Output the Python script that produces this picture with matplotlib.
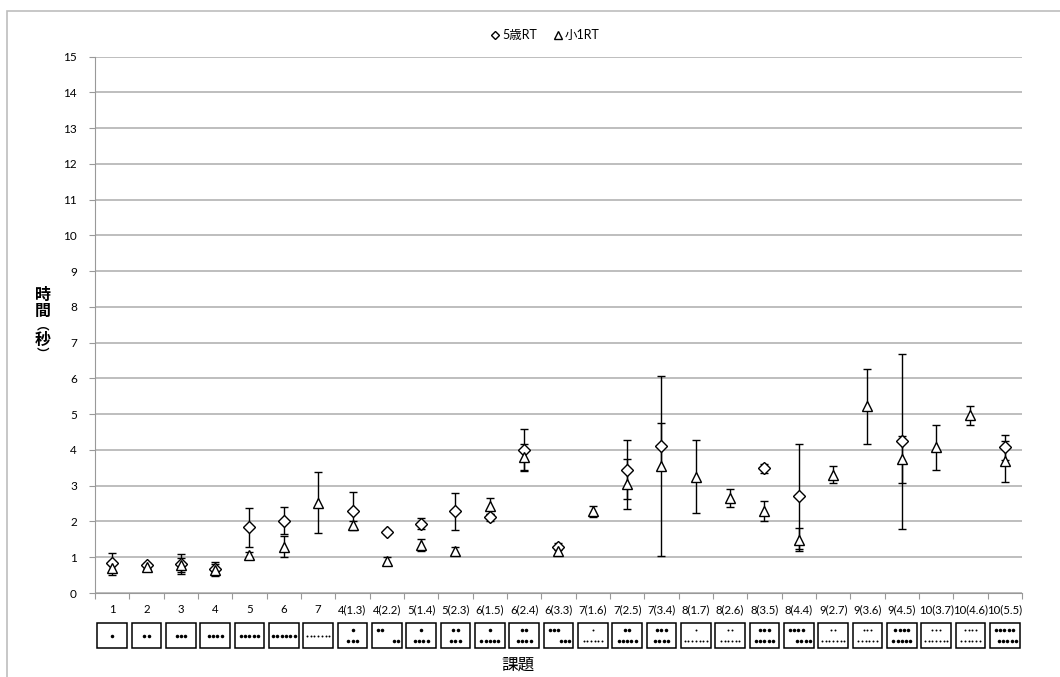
import numpy as np
import matplotlib
matplotlib.use('Agg')
import matplotlib.pyplot as plt
from matplotlib.patches import Rectangle
from matplotlib.lines import Line2D
from matplotlib.transforms import blended_transform_factory

plt.rcParams['font.family'] = ['Lato', 'Noto Sans CJK JP', 'DejaVu Sans']

nan = np.nan

# 課題 labels
labels = ['1', '2', '3', '4', '5', '6', '7', '4(1.3)', '4(2.2)', '5(1.4)', '5(2.3)',
          '6(1.5)', '6(2.4)', '6(3.3)', '7(1.6)', '7(2.5)', '7(3.4)', '8(1.7)',
          '8(2.6)', '8(3.5)', '8(4.4)', '9(2.7)', '9(3.6)', '9(4.5)', '10(3.7)',
          '10(4.6)', '10(5.5)']

# dots shown in the box below each label (top row, bottom row)
top_dots = [1, 2, 3, 4, 5, 6, 7, 1, 2, 1, 2, 1, 2, 3, 1, 2, 3, 1, 2, 3, 4, 2, 3, 4, 3, 4, 5]
bottom_dots = [0, 0, 0, 0, 0, 0, 0, 3, 2, 4, 3, 5, 4, 3, 6, 5, 4, 7, 6, 5, 4, 7, 6, 5, 7, 6, 5]

# 5歳 RT (mean, error)
rt5 = [0.85, 0.78, 0.82, 0.67, 1.84, 2.02, nan, 2.30, 1.71, 1.94, 2.28, 2.12, 4.00, 1.30,
       nan, 3.45, 4.10, nan, nan, 3.49, 2.70, nan, nan, 4.24, nan, nan, 4.08]
err5 = [0.27, 0.05, 0.28, 0.20, 0.55, 0.38, nan, 0.53, 0.06, 0.15, 0.52, 0.10, 0.58, 0.10,
        nan, 0.82, 0.65, nan, nan, 0.13, 1.47, nan, nan, 2.45, nan, nan, 0.35]

# 小1 RT (mean, error)
rt1 = [0.70, 0.72, 0.78, 0.65, 1.06, 1.30, 2.53, 1.90, 0.90, 1.35, 1.18, 2.44, 3.81, 1.18,
       2.28, 3.05, 3.56, 3.25, 2.65, 2.29, 1.49, 3.31, 5.22, 3.74, 4.08, 4.97, 3.68]
err1 = [0.20, 0.05, 0.20, 0.15, 0.08, 0.30, 0.85, 0.10, 0.10, 0.17, 0.12, 0.22, 0.36, 0.10,
        0.15, 0.70, 2.52, 1.02, 0.25, 0.28, 0.32, 0.23, 1.04, 0.65, 0.63, 0.26, 0.57]

W, H = 1060, 677
fig = plt.figure(figsize=(W / 100, H / 100), dpi=100)
ax = fig.add_axes([95 / W, 1 - 593 / H, (1022 - 95) / W, (593 - 56.7) / H])

# outer chart frame (runs off the right and bottom)
fig.patches.append(Rectangle((7 / W, -0.1), 1.2, 1.1 - 11 / H, transform=fig.transFigure,
                             fill=False, edgecolor='#bdbdbd', lw=1.2))

x = np.arange(len(labels))

ax.errorbar(x, rt5, yerr=err5, fmt='none', ecolor='black', elinewidth=1, capsize=2.8, capthick=1, zorder=3)
ax.errorbar(x, rt1, yerr=err1, fmt='none', ecolor='black', elinewidth=1, capsize=2.8, capthick=1, zorder=3)
ax.plot(x, rt5, ls='none', marker='D', ms=6, mfc='white', mec='black', mew=1, zorder=4)
ax.plot(x, rt1, ls='none', marker='^', ms=7.5, mfc='white', mec='black', mew=1, zorder=4)

ax.set_xlim(-0.5, len(labels) - 0.5)
ax.set_ylim(0, 15)
ax.set_yticks(range(0, 16))
ax.yaxis.grid(True, color='#b3b3b3', lw=1.2)
ax.set_axisbelow(True)
ax.set_xticks(np.arange(-0.5, len(labels)), minor=False)
ax.set_xticklabels([])
ax.set_xticks(x, minor=True)
ax.set_xticklabels(labels, minor=True, fontsize=8.2)
ax.tick_params(axis='x', which='minor', length=0, pad=8)
ax.tick_params(axis='x', which='major', length=4, color='#999999')
ax.tick_params(axis='y', length=4, color='#999999', labelsize=8.5, pad=9)
for side in ['top', 'right']:
    ax.spines[side].set_visible(False)
for side in ['left', 'bottom']:
    ax.spines[side].set_color('#999999')

# dot-pattern boxes under the labels
tr = blended_transform_factory(ax.transData, fig.transFigure)
px = 1 / 34.35  # one pixel in data units along x
box_w = 30 * px
box_top, box_bot = 1 - 623 / H, 1 - 648 / H
box_h = box_top - box_bot
for i in range(len(labels)):
    ax.add_patch(Rectangle((i - box_w / 2, box_bot), box_w, box_h, transform=tr, fill=False,
                           edgecolor='black', lw=1.1, clip_on=False))
    t, b = top_dots[i], bottom_dots[i]
    big = max(t, b) < 7 and not (b > 0 and max(t, b) >= 6)
    step = (4.3 if big else 3.7) * px
    size = 6.5 if big else 2.0
    if b == 0:
        rows = [(t, box_bot + box_h / 2, 'c')]
    elif t == b:
        rows = [(t, box_top - box_h * 0.27, 'l'), (b, box_bot + box_h * 0.27, 'r')]
    else:
        rows = [(t, box_top - box_h * 0.27, 'c'), (b, box_bot + box_h * 0.27, 'c')]
    for n, yy, align in rows:
        span = (n - 1) * step
        if align == 'c':
            x0 = i - span / 2
        elif align == 'l':
            x0 = i - box_w / 2 + 6 * px
        else:
            x0 = i + box_w / 2 - 4 * px - span
        xs = x0 + np.arange(n) * step
        ax.scatter(xs, np.full(n, yy), s=size, c='black', transform=tr, clip_on=False, lw=0)

fig.text(518 / W, 1 - 665 / H, '課題', ha='center', va='center', fontsize=12)

# vertical axis title, characters stacked, vertical bracket forms
ylab = [('時', 295, 11.5), ('間', 311, 11.5), ('︵', 326, 9), ('秒', 340, 11.5), ('︶', 354, 9)]
for ch, yy, fs in ylab:
    fig.text(43 / W, 1 - yy / H, ch, ha='center', va='center', fontsize=fs,
             fontweight='bold', family='Noto Sans CJK JP')

handles = [Line2D([], [], ls='none', marker='D', ms=4.5, mfc='white', mec='black', mew=1),
           Line2D([], [], ls='none', marker='^', ms=5.5, mfc='white', mec='black', mew=1)]
fig.legend(handles, ['5歳RT', '小1RT'], loc='center', bbox_to_anchor=(545 / W, 1 - 35 / H),
           ncol=2, frameon=False, fontsize=9, handlelength=0.8, handletextpad=0.2, columnspacing=1.2)

plt.savefig('out.png', dpi=100)
